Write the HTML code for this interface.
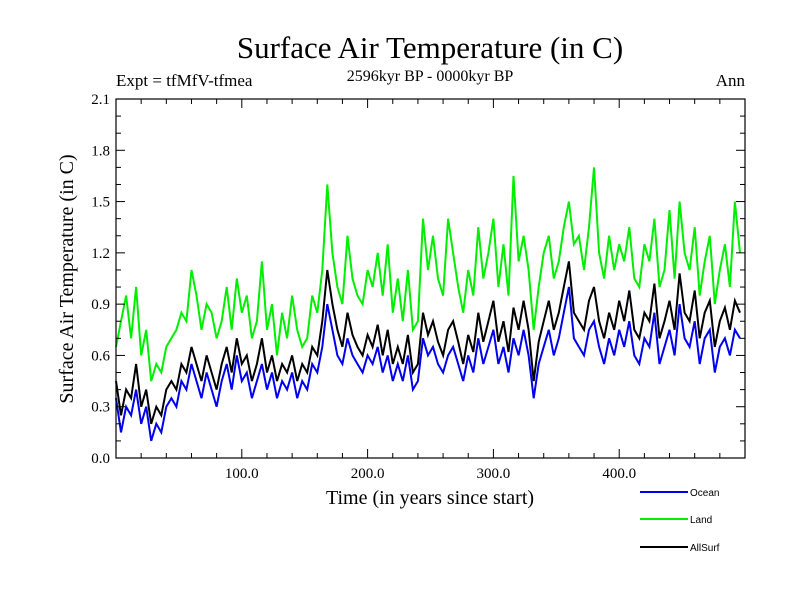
<!DOCTYPE html>
<html><head><meta charset="utf-8"><style>
body{margin:0;background:#fff;}
svg{display:block;}
.serif{font-family:"Liberation Serif",serif;fill:#000;}
.sans{font-family:"Liberation Sans",sans-serif;fill:#000;}
</style></head><body>
<svg id="chart" width="800" height="600">
<rect width="800" height="600" fill="#fff"/>
<text class="serif" x="430" y="58" font-size="31" text-anchor="middle">Surface Air Temperature (in C)</text>
<text class="serif" x="116" y="86" font-size="17">Expt = tfMfV-tfmea</text>
<text class="serif" x="430" y="81" font-size="16" text-anchor="middle">2596kyr BP - 0000kyr BP</text>
<text class="serif" x="745" y="86" font-size="17" text-anchor="end">Ann</text>
<text class="serif" x="0" y="0" font-size="20" text-anchor="middle" transform="translate(73,279) rotate(-90)">Surface Air Temperature (in C)</text>
<text class="serif" x="430" y="504" font-size="20" text-anchor="middle">Time (in years since start)</text>
<g id="plot"></g>
<g id="axes"></g>
<g id="legend"></g>
</svg>
<script>
const yTickLabels=["0.0","0.3","0.6","0.9","1.2","1.5","1.8","2.1"];
const yTickValues=[0,0.3,0.6,0.9,1.2,1.5,1.8,2.1];
const xTickValues=[100,200,300,400];
const xTickLabels=["100.0","200.0","300.0","400.0"];
const years=[];for(let t=0;t<=496;t+=4)years.push(t);
const ocean=[0.35,0.15,0.30,0.25,0.40,0.20,0.30,0.10,0.20,0.15,0.30,
0.35,0.30,0.45,0.40,0.55,0.45,0.35,0.50,0.40,0.30,
0.45,0.55,0.40,0.60,0.45,0.50,0.35,0.45,0.55,0.40,
0.50,0.35,0.45,0.40,0.50,0.35,0.45,0.40,0.55,0.50,
0.65,0.90,0.75,0.60,0.55,0.70,0.60,0.55,0.50,0.60,
0.55,0.65,0.50,0.60,0.45,0.55,0.45,0.60,0.40,0.45,
0.70,0.60,0.65,0.55,0.50,0.60,0.65,0.55,0.45,0.60,
0.50,0.70,0.55,0.65,0.75,0.55,0.65,0.50,0.70,0.60,
0.75,0.60,0.35,0.55,0.65,0.75,0.60,0.70,0.85,1.00,
0.70,0.65,0.60,0.75,0.80,0.65,0.55,0.70,0.60,0.75,
0.65,0.80,0.60,0.55,0.70,0.65,0.85,0.55,0.65,0.75,
0.60,0.90,0.70,0.65,0.80,0.55,0.70,0.75,0.50,0.65,
0.70,0.60,0.75,0.70];
const land=[0.65,0.80,0.95,0.70,1.00,0.60,0.75,0.45,0.55,0.50,0.65,
0.70,0.75,0.85,0.80,1.10,0.95,0.75,0.90,0.85,0.70,
0.80,1.00,0.75,1.05,0.85,0.95,0.70,0.80,1.15,0.75,
0.90,0.60,0.85,0.70,0.95,0.75,0.65,0.70,0.95,0.85,
1.10,1.60,1.20,1.00,0.90,1.30,1.05,0.95,0.90,1.10,
1.00,1.20,0.95,1.25,0.85,1.05,0.80,1.10,0.75,0.80,
1.40,1.10,1.30,1.05,0.95,1.40,1.20,1.00,0.85,1.10,
0.95,1.35,1.05,1.20,1.40,1.00,1.25,0.95,1.65,1.15,
1.30,1.10,0.75,1.00,1.20,1.30,1.05,1.15,1.35,1.50,
1.25,1.30,1.10,1.35,1.70,1.20,1.05,1.30,1.10,1.25,
1.15,1.35,1.05,1.00,1.25,1.15,1.40,1.00,1.10,1.45,
1.05,1.50,1.20,1.10,1.35,0.95,1.15,1.30,0.90,1.10,
1.25,1.00,1.50,1.20];
const allSurf=[0.45,0.25,0.40,0.35,0.55,0.30,0.40,0.20,0.30,0.25,0.40,
0.45,0.40,0.55,0.50,0.65,0.55,0.45,0.60,0.50,0.40,
0.55,0.65,0.50,0.70,0.55,0.60,0.45,0.55,0.70,0.50,
0.60,0.45,0.55,0.50,0.60,0.45,0.55,0.50,0.65,0.60,
0.80,1.10,0.90,0.75,0.65,0.85,0.72,0.65,0.60,0.72,
0.65,0.78,0.60,0.75,0.55,0.65,0.55,0.72,0.50,0.55,
0.85,0.72,0.80,0.68,0.60,0.75,0.80,0.68,0.55,0.72,
0.62,0.85,0.68,0.80,0.92,0.68,0.80,0.62,0.88,0.75,
0.92,0.75,0.45,0.68,0.80,0.92,0.75,0.85,1.00,1.15,
0.85,0.80,0.75,0.92,1.00,0.80,0.70,0.85,0.75,0.92,
0.80,0.98,0.75,0.70,0.85,0.80,1.02,0.70,0.80,0.92,
0.75,1.08,0.85,0.80,0.98,0.70,0.85,0.92,0.65,0.80,
0.88,0.75,0.92,0.85];

const X0=116,X1=745,Y0=458,Y1=99;
const xs=t=>X0+(t/500)*(X1-X0);
const ys=v=>Y0-(v/2.1)*(Y0-Y1);
const NS="http://www.w3.org/2000/svg";
function mk(tag,attrs,parent){const e=document.createElementNS(NS,tag);for(const k in attrs)e.setAttribute(k,attrs[k]);parent.appendChild(e);return e;}
const plot=document.getElementById('plot');
function series(vals,color,name){
  const d=vals.map((v,i)=>(i?'L':'M')+xs(years[i]).toFixed(1)+','+ys(v).toFixed(1)).join('');
  const p=mk('path',{d:d,fill:'none',stroke:color,'stroke-width':2},plot);
  
  
}
series(land,'#00ee00','land-line');
series(allSurf,'#000000','allsurf-line');
series(ocean,'#0000ee','ocean-line');

const axes=document.getElementById('axes');
const frame=mk('rect',{x:X0,y:Y1,width:X1-X0,height:Y0-Y1,fill:'none',stroke:'#000','stroke-width':1.2},axes);


for(let v=0;v<=2.1001;v+=0.1){
  const y=ys(v);const major=Math.abs(v/0.3-Math.round(v/0.3))<0.01;const L=major?9:5;
  mk('line',{x1:X0,x2:X0+L,y1:y,y2:y,stroke:'#000'},axes);
  mk('line',{x1:X1,x2:X1-L,y1:y,y2:y,stroke:'#000'},axes);
}
yTickValues.forEach((v,i)=>{
  const t=mk('text',{x:X0-6,y:ys(v)+5,'font-size':15,'text-anchor':'end',class:'serif'},axes);
  t.textContent=yTickLabels[i];
  
  
});
for(let t=20;t<500;t+=20){
  const x=xs(t);const L=(t%100===0)?9:5;
  mk('line',{x1:x,x2:x,y1:Y0,y2:Y0-L,stroke:'#000'},axes);
  mk('line',{x1:x,x2:x,y1:Y1,y2:Y1+L,stroke:'#000'},axes);
}
xTickValues.forEach((v,i)=>{
  const t=mk('text',{x:xs(v),y:Y0+20,'font-size':15,'text-anchor':'middle',class:'serif'},axes);
  t.textContent=xTickLabels[i];
  
  
});
const legend=document.getElementById('legend');
const legendLabels=["Ocean","Land","AllSurf"];
const legendColors=['#0000ee','#00ee00','#000000'];
const legendY=[492,519,547];
legendLabels.forEach((lab,i)=>{
  const g=mk('g',{},legend);
  
  
  mk('line',{x1:640,x2:688,y1:legendY[i],y2:legendY[i],stroke:legendColors[i],'stroke-width':2},g);
  const t=mk('text',{x:690,y:legendY[i]+4,'font-size':10,class:'sans'},g);
  t.textContent=lab;
});
</script>
</body></html>
